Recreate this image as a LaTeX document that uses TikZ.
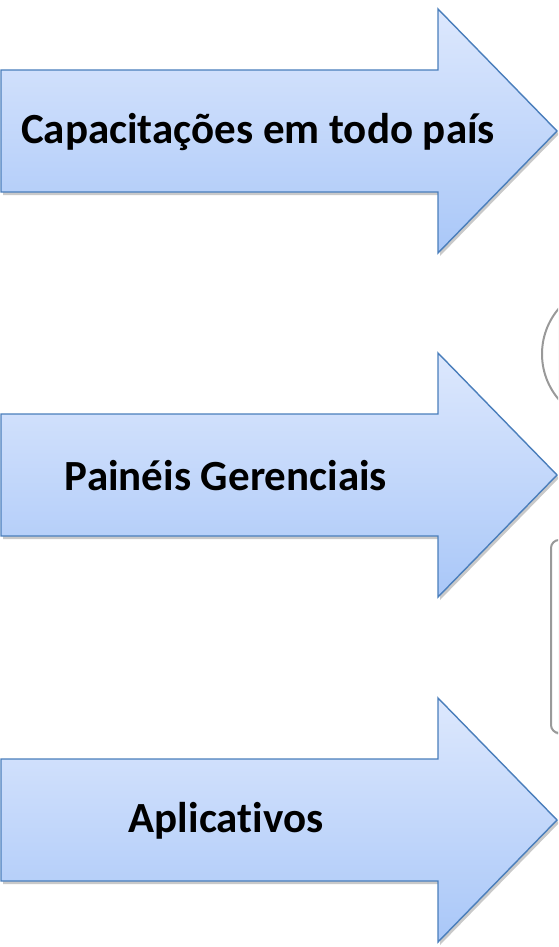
\documentclass[tikz,border=0pt]{standalone}
\usepackage{fontspec}
\setmainfont{Carlito}[Ligatures=NoCommon]
\usetikzlibrary{shadows}

\definecolor{setaborda}{HTML}{4A7EBB}
\definecolor{setatopo}{HTML}{DDE8FD}
\definecolor{setabase}{HTML}{A9C7F8}

\tikzset{
  seta/.style={draw=setaborda, line width=1.4pt, line join=miter,
    top color=setatopo, bottom color=setabase,
    drop shadow={shadow xshift=2pt, shadow yshift=-3pt, opacity=.3, fill=black!70}},
  rotulo/.style={font=\fontsize{43}{50}\selectfont\bfseries, text=black, inner sep=0pt},
  botao/.style={draw=black!40, line width=2pt, fill=white,
    drop shadow={shadow xshift=1pt, shadow yshift=-2pt, opacity=.3, fill=black!60}}
}

\begin{document}
\begin{tikzpicture}[x=1pt,y=-1pt]
  \useasboundingbox (0,0) rectangle (558,947);
  \clip (0,0) rectangle (558,947);

  % pieces cut off at the right edge
  \draw[botao] (612,354) circle (70);
  \draw[botao, rounded corners=8pt] (551,540) rectangle (640,733);

  % the three arrows
  \foreach \c in {131,475,820}{
    \path[seta] (1,\c-61) -- (438,\c-61) -- (438,\c-122) -- (557,\c)
      -- (438,\c+122) -- (438,\c+61) -- (1,\c+61) -- cycle;
  }

  \node[rotulo] (cap) at (258,132) {Capacitações em todo país};
  \node[rotulo] (pain) at (226,476) {Painéis Gerenciais};
  \node[rotulo] (apl) at (226,821) {Aplicativos};
\end{tikzpicture}
\end{document}
